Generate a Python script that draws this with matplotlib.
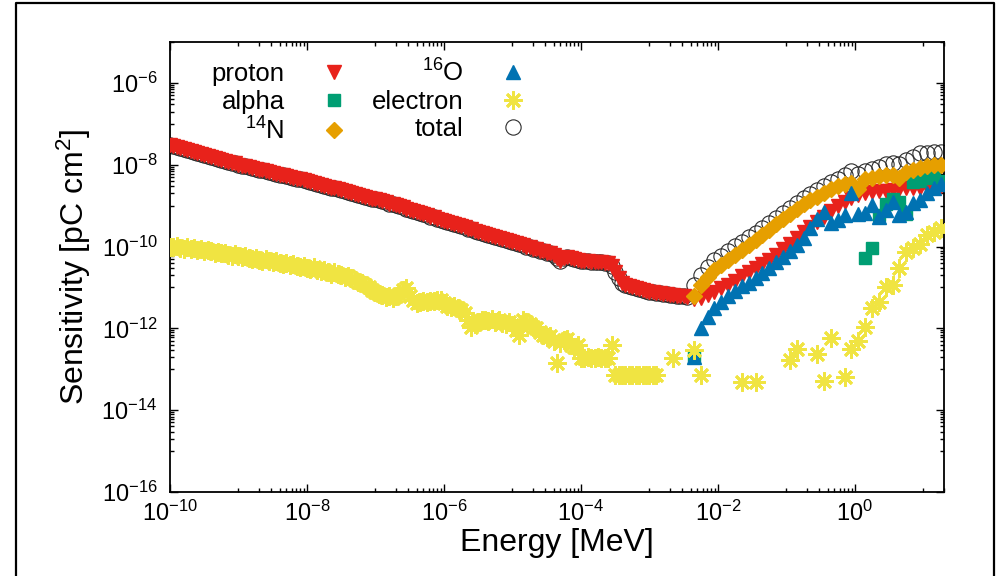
import matplotlib
matplotlib.use("Agg")
import matplotlib.pyplot as plt
from matplotlib.lines import Line2D
from matplotlib.ticker import FixedLocator, LogLocator, NullFormatter
import numpy as np

plt.rcParams['font.family'] = ['Liberation Sans', 'DejaVu Sans']
plt.rcParams['mathtext.fontset'] = 'custom'
plt.rcParams['mathtext.rm'] = 'Liberation Sans'
plt.rcParams['mathtext.it'] = 'Liberation Sans:italic'
plt.rcParams['mathtext.bf'] = 'Liberation Sans:bold'

# ---------------------------------------------
# DATA  (log10 of energy [MeV] and sensitivity [pC cm^2])
# ---------------------------------------------

# fine energy grid (thermal / epithermal part)
log_e_low = [
    -10.00, -9.95, -9.90, -9.85, -9.80, -9.75, -9.70, -9.65, -9.60, -9.55,
    -9.50, -9.45, -9.40, -9.35, -9.30, -9.25, -9.20, -9.15, -9.10, -9.05,
    -9.00, -8.95, -8.90, -8.85, -8.80, -8.75, -8.70, -8.65, -8.60, -8.55,
    -8.50, -8.45, -8.40, -8.35, -8.30, -8.25, -8.20, -8.15, -8.10, -8.05,
    -8.00, -7.95, -7.90, -7.85, -7.80, -7.75, -7.70, -7.65, -7.60, -7.55,
    -7.50, -7.45, -7.40, -7.35, -7.30, -7.25, -7.20, -7.15, -7.10, -7.05,
    -7.00, -6.95, -6.90, -6.85, -6.80, -6.75, -6.70, -6.65, -6.60, -6.55,
    -6.50, -6.45, -6.40, -6.35, -6.30, -6.25, -6.20, -6.15, -6.10, -6.05,
    -6.00, -5.95, -5.90, -5.85, -5.80, -5.75, -5.70, -5.65, -5.60, -5.55,
    -5.50, -5.45, -5.40, -5.35, -5.30, -5.25, -5.20, -5.15, -5.10, -5.05,
    -5.00, -4.95, -4.90, -4.85, -4.80, -4.75, -4.70, -4.65, -4.60, -4.55,
    -4.50, -4.45, -4.40, -4.35, -4.30, -4.25, -4.20, -4.15, -4.10, -4.05,
    -4.00, -3.95, -3.90, -3.85, -3.80, -3.75, -3.70, -3.65, -3.60, -3.55,
    -3.50, -3.45, -3.40, -3.35, -3.30, -3.25, -3.20, -3.15, -3.10, -3.05,
    -3.00, -2.95, -2.90, -2.85, -2.80, -2.75, -2.70, -2.65, -2.60, -2.55,
    -2.50, -2.45,
]

proton_low = [
    -7.52, -7.54, -7.57, -7.59, -7.61, -7.64, -7.66, -7.69, -7.71, -7.74,
    -7.76, -7.78, -7.81, -7.83, -7.85, -7.88, -7.90, -7.93, -7.95, -7.97,
    -8.00, -8.02, -8.04, -8.06, -8.08, -8.10, -8.12, -8.14, -8.16, -8.18,
    -8.20, -8.22, -8.24, -8.26, -8.28, -8.30, -8.32, -8.34, -8.36, -8.38,
    -8.40, -8.42, -8.45, -8.47, -8.49, -8.51, -8.54, -8.56, -8.58, -8.60,
    -8.62, -8.64, -8.67, -8.69, -8.71, -8.74, -8.76, -8.78, -8.81, -8.83,
    -8.85, -8.87, -8.89, -8.91, -8.95, -8.97, -8.99, -9.01, -9.04, -9.07,
    -9.10, -9.13, -9.15, -9.18, -9.21, -9.24, -9.27, -9.29, -9.32, -9.35,
    -9.38, -9.40, -9.43, -9.45, -9.48, -9.51, -9.53, -9.56, -9.58, -9.61,
    -9.64, -9.66, -9.69, -9.71, -9.74, -9.77, -9.79, -9.82, -9.84, -9.87,
    -9.90, -9.92, -9.95, -9.97, -10.00, -10.02, -10.05, -10.07, -10.10, -10.12,
    -10.15, -10.17, -10.20, -10.28, -10.36, -10.28, -10.25, -10.27, -10.30, -10.33,
    -10.35, -10.36, -10.36, -10.37, -10.37, -10.38, -10.38, -10.39, -10.40, -10.48,
    -10.62, -10.78, -10.88, -10.93, -10.96, -10.99, -11.02, -11.04, -11.06, -11.08,
    -11.10, -11.12, -11.13, -11.14, -11.16, -11.17, -11.18, -11.19, -11.20, -11.21,
    -11.22, -11.23,
]

electron_low = [
    -10.00, -10.02, -9.98, -10.03, -10.05, -10.02, -10.06, -10.04, -10.08, -10.07,
    -10.10, -10.08, -10.12, -10.15, -10.13, -10.17, -10.16, -10.20, -10.22, -10.19,
    -10.24, -10.26, -10.23, -10.28, -10.30, -10.27, -10.32, -10.35, -10.31, -10.36,
    -10.38, -10.35, -10.40, -10.42, -10.39, -10.45, -10.43, -10.47, -10.50, -10.48,
    -10.52, -10.55, -10.51, -10.58, -10.60, -10.57, -10.63, -10.66, -10.62, -10.68,
    -10.70, -10.74, -10.72, -10.78, -10.82, -10.86, -10.90, -10.95, -11.00, -11.06,
    -11.10, -11.15, -11.18, -11.23, -11.20, -11.25, -11.22, -11.15, -11.05, -11.01,
    -11.20, -11.30, -11.38, -11.35, -11.33, -11.36, -11.32, -11.34, -11.30, -11.31,
    -11.38, -11.45, -11.48, -11.46, -11.50, -11.55, -11.62, -11.80, -11.97, -11.90,
    -11.85, -11.80, -11.79, -11.82, -11.78, -11.85, -11.80, -11.87, -11.90, -11.85,
    -11.92, -12.05, -12.16, -11.79, -11.85, -11.90, -11.97, -12.00, -12.10, -12.15,
    -12.21, -12.18, -12.30, -12.85, -12.35, -12.28, -12.25, -12.40, -12.45, -12.41,
    -12.72, -12.72, -12.70, -12.72, -12.73, -12.71, -12.72, -12.72, -12.73, -12.41,
    -13.14, -13.14, -13.15, -13.13, -13.14, -13.14, -13.15, -13.13, -13.14, -13.14,
    -13.15, -13.14, -13.13, None, None, None, None, -12.72, None, None,
    None, None,
]

# coarse energy grid (fast part)
log_e_high = [
    -2.35, -2.25, -2.15, -2.05, -1.95, -1.85, -1.75, -1.65, -1.55, -1.45,
    -1.35, -1.25, -1.15, -1.05, -0.95, -0.85, -0.75, -0.65, -0.55, -0.45,
    -0.35, -0.25, -0.15, -0.05, 0.05, 0.15, 0.25, 0.35, 0.45, 0.55,
    0.65, 0.75, 0.85, 0.95, 1.05, 1.15, 1.25,
]

proton_high = [
    -11.28, -11.25, -11.18, -11.10, -11.02, -10.94, -10.84, -10.73, -10.62, -10.52,
    -10.42, -10.32, -10.20, -10.06, -9.93, -9.78, -9.65, -9.52, -9.40, -9.27,
    -9.14, -9.02, -8.91, -8.82, -8.75, -8.70, -8.67, -8.65, -8.63, -8.62,
    -8.60, -8.58, -8.57, -8.56, -8.55, -8.54, -8.53,
]

alpha_high = [
    -12.70, None, None, None, None, None, None, None, None, None,
    None, None, None, None, None, None, None, None, None, None,
    None, None, None, None, None, -10.28, -10.04, -9.23, -8.95, -8.85,
    -8.92, -9.20, -8.42, -8.40, -8.32, -8.30, -8.40,
]

nitrogen_high = [
    -11.20, -10.95, -10.75, -10.58, -10.44, -10.32, -10.20, -10.08, -9.96, -9.84,
    -9.72, -9.59, -9.45, -9.32, -9.20, -9.08, -8.97, -8.87, -8.78, -8.68,
    -8.60, -8.52, -8.47, -8.45, -8.60, -8.36, -8.32, -8.28, -8.25, -8.24,
    -8.33, -8.18, -8.13, -8.08, -8.04, -8.01, -8.00,
]

oxygen_high = [
    -12.70, -12.00, -11.72, -11.50, -11.35, -11.20, -11.08, -10.97, -10.88, -10.76,
    -10.64, -10.52, -10.38, -10.25, -10.10, -9.97, -9.80, -9.55, -9.33, -9.16,
    -9.43, -9.35, -9.23, -8.68, -9.20, -9.18, -8.98, -9.28, -9.10, -8.91,
    -9.23, -9.15, -8.93, -8.86, -8.70, -8.58, -8.46,
]

electron_high = [
    -12.53, -13.15, None, None, None, None, None, -13.30, None, -13.30,
    None, None, None, None, -12.77, -12.50, None, None, -12.62, -13.28,
    -12.23, None, -13.19, -12.50, -12.30, -11.96, -11.50, -11.35, -11.00, -10.95,
    -10.52, -10.13, -10.03, -9.94, -9.72, -9.65, -9.55,
]

total_high = [
    -10.95, -10.70, -10.50, -10.34, -10.22, -10.10, -9.99, -9.88, -9.77, -9.66,
    -9.55, -9.43, -9.30, -9.17, -9.05, -8.93, -8.82, -8.72, -8.62, -8.52,
    -8.43, -8.35, -8.25, -8.15, -8.22, -8.15, -8.10, -8.05, -7.98, -7.97,
    -7.98, -7.88, -7.80, -7.72, -7.71, -7.70, -7.70,
]

# below ~5 keV the total is the proton curve (other species are orders smaller)
total_low = proton_low

labels = ['proton', 'alpha', r'$^{14}$N', r'$^{16}$O', 'electron', 'total']

# labelled decades on each axis
x_major_exp = [-10, -8, -6, -4, -2, 0]
y_major_exp = [-16, -14, -12, -10, -8, -6]


def to_lin(vals):
    return 10.0 ** np.array(vals, dtype=float)


e_low = to_lin(log_e_low)
e_high = to_lin(log_e_high)
e_all = np.concatenate([e_low, e_high])

# ---------------------------------------------
# PLOT
# ---------------------------------------------
fig = plt.figure(figsize=(10.05, 5.76), dpi=100)
ax = fig.add_axes([170 / 1005, 1 - 492 / 576, 774 / 1005, 450 / 576])

red = '#e8221b'
green = '#009e73'
orange = '#e69f00'
blue = '#0072b2'
yellow = '#f0e442'

h_t, = ax.plot(e_all, to_lin(total_low + total_high), ls='none', marker='o', ms=11,
               mfc='none', mec='#2b2b2b', mew=0.8, zorder=2)
h_p, = ax.plot(e_all, to_lin(proton_low + proton_high), ls='none', marker='v',
               ms=9.5, color=red, zorder=3)
h_a, = ax.plot(e_high, to_lin(alpha_high), ls='none', marker='s', ms=9,
               color=green, zorder=3)
h_n, = ax.plot(e_high, to_lin(nitrogen_high), ls='none', marker='D', ms=8,
               color=orange, zorder=3)
h_o, = ax.plot(e_high, to_lin(oxygen_high), ls='none', marker='^', ms=9.5,
               color=blue, zorder=3)
h_e, = ax.plot(e_all, to_lin(electron_low + electron_high), ls='none',
               marker=(8, 2, 0), ms=13, mew=2.0, color=yellow, zorder=4)

ax.set_xscale('log')
ax.set_yscale('log')
ax.set_xlim(1e-10, 20)
ax.set_ylim(1e-16, 1e-5)

ax.xaxis.set_major_locator(FixedLocator(to_lin(x_major_exp)))
ax.yaxis.set_major_locator(FixedLocator(to_lin(y_major_exp)))
for axis in (ax.xaxis, ax.yaxis):
    axis.set_minor_locator(LogLocator(base=100, subs=np.arange(10, 100, 10)))
    axis.set_minor_formatter(NullFormatter())

ax.tick_params(which='both', direction='in', top=True, right=True, width=1)
ax.tick_params(which='major', length=6)
ax.tick_params(which='minor', length=3)
ax.tick_params(axis='x', labelsize=17, pad=6)
ax.tick_params(axis='y', labelsize=17, pad=9)
for s in ax.spines.values():
    s.set_linewidth(1.3)

ax.set_xlabel('Energy [MeV]', fontsize=23)
ax.set_ylabel('Sensitivity [pC cm$^2$]', fontsize=23)
ax.xaxis.set_label_coords(0.5, -0.08)
ax.yaxis.set_label_coords(-0.10, 0.5)

ax.legend([h_p, h_a, h_n, h_o, h_e, h_t], labels, ncol=2, markerfirst=False,
          frameon=False, fontsize=18.5, loc='upper left', bbox_to_anchor=(0.054, 0.962),
          handlelength=1.0, handletextpad=1.4, columnspacing=1.0,
          labelspacing=0.13, borderpad=0, borderaxespad=0)

# outer frame of the figure panel (left, top, right edges)
fl, fr, ft = 16 / 1005, 994 / 1005, 1 - 3 / 576
fig.add_artist(Line2D([fl, fl, fr, fr], [0, ft, ft, 0], transform=fig.transFigure,
                      color='black', lw=1.6))

fig.savefig('out.png', dpi=100)
